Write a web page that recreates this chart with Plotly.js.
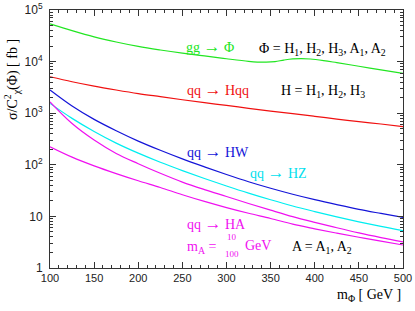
<!DOCTYPE html>
<html><head><meta charset="utf-8">
<script src="https://cdn.plot.ly/plotly-3.0.1.min.js"></script>
<style>html,body{margin:0;padding:0;background:#fff}#c{width:415px;height:311px}</style>
</head><body><div id="c"></div>
<script>
const mPhi = [100,125,150,175,200,225,250,275,300,325,350,375,400,425,450,475,500];
const mPhiGG = [100,125,150,175,200,225,250,275,300,325,335,345,355,365,375,385,395,410,425,450,475,500];
const ggPhi = [53700,39800,30200,24000,19700,16800,14600,12900,11350,10100,9800,9750,10000,10700,11250,11380,11220,10470,9550,8130,6920,5890];
const qqHqq = [5093,4074,3350,2818,2399,2089,1820,1603,1413,1245,1096,977,871,767,684,617,550];
const qqHW  = [2818,1380,759,457,288,191,130,91.2,64.9,47.0,35.1,26.9,21.1,16.9,13.7,11.4,9.55];
const qqHZ  = [1549,794,442,263,168,112,77.3,54.3,38.9,28.3,21.0,15.9,12.4,9.77,7.85,6.40,5.30];
const qqHA10  = [1660,631,302,166,105,68.4,46.2,33.1,24.3,17.8,13.2,9.89,7.67,6.03,4.79,3.89,3.20];
const qqHA100 = [224,141,95.5,67.6,49.0,36.3,26.3,19.5,14.8,11.5,9.12,7.08,5.75,4.73,3.94,3.31,2.79];
const yTickVals = [1,10,100,1000,10000,100000];
const yTickText = ['1','10','10<sup>2</sup>','10<sup>3</sup>','10<sup>4</sup>','10<sup>5</sup>'];
const xTickVals = [100,150,200,250,300,350,400,450,500];

const yMinor = [];
for (let d = 0; d < 5; d++) for (let k = 2; k <= 9; k++) yMinor.push(k * Math.pow(10, d));

function tr(x, y, color) {
  return {x: x, y: y, type: 'scatter', mode: 'lines', line: {color: color, width: 1.2, shape: 'spline', smoothing: 1}, hoverinfo: 'skip', showlegend: false};
}
const GREEN = '#22e622', RED = '#f01010', BLUE = '#1414d8', CYAN = '#00eef0', MAG = '#f010f0';
const data = [
  tr(mPhiGG, ggPhi, GREEN),
  tr(mPhi, qqHqq, RED),
  tr(mPhi, qqHW, BLUE),
  tr(mPhi, qqHZ, CYAN),
  tr(mPhi, qqHA10, MAG),
  tr(mPhi, qqHA100, MAG)
];
const serif = 'Liberation Serif, Times New Roman, serif';
const AR = '<span style="font-size:17px">→</span>';
function ann(text, px, py, color, size, extra) {
  return Object.assign({text: text, xref: 'paper', yref: 'paper', x: (px - 50) / 353, y: (268 - py) / 258,
    xanchor: 'left', yanchor: 'middle', showarrow: false, font: {family: serif, size: size || 14, color: color}}, extra || {});
}
const annotations = [
  ann('gg ' + AR + ' Φ', 184, 46, GREEN),
  ann('Φ = H<sub>1</sub>, H<sub>2</sub>, H<sub>3</sub>, A<sub>1</sub>, A<sub>2</sub>', 257, 49, '#000'),
  ann('qq ' + AR + ' Hqq', 185, 89, RED),
  ann('H = H<sub>1</sub>, H<sub>2</sub>, H<sub>3</sub>', 279, 91, '#000'),
  ann('qq ' + AR + ' HW', 185, 151, BLUE),
  ann('qq ' + AR + ' HZ', 248, 172, '#00e0ee'),
  ann('qq ' + AR + ' HA', 185, 223, MAG),
  ann('m<sub>A</sub> =', 185, 247, MAG),
  ann('10', 225, 237, MAG, 9),
  ann('100', 223, 254, MAG, 9),
  ann('GeV', 243, 245, MAG),
  ann('A = A<sub>1</sub>, A<sub>2</sub>', 290, 247, '#000'),
  ann('σ/C<sup>2</sup><sub>χ</sub>(Φ) [ fb ]', 12, 80, '#000', 14, {xanchor: 'center', textangle: -90}),
  ann('m<sub>Φ</sub> [ GeV ]', 403, 295, '#000', 14, {xanchor: 'right'})
];
const axFont = {family: 'Liberation Sans, Arial, sans-serif', size: 11, color: '#222'};
const layout = {
  width: 415, height: 311,
  margin: {l: 50, r: 12, t: 10, b: 43},
  paper_bgcolor: '#fff', plot_bgcolor: '#fff',
  xaxis: {range: [100, 500], tickmode: 'array', tickvals: xTickVals, ticks: 'inside', ticklen: 6, tickcolor: '#333',
    showline: true, linecolor: '#333', linewidth: 1, mirror: 'allticks', showgrid: false, zeroline: false,
    tickfont: axFont, minor: {dtick: 10, ticks: 'inside', ticklen: 3, tickcolor: '#333', showgrid: false}},
  yaxis: {type: 'log', range: [0, 5], tickmode: 'array', tickvals: yTickVals, ticktext: yTickText, ticks: 'inside', ticklen: 6, tickcolor: '#333',
    showline: true, linecolor: '#333', linewidth: 1, mirror: 'allticks', showgrid: false, zeroline: false, ticklabelstandoff: 4,
    tickfont: {family: 'Liberation Sans, Arial, sans-serif', size: 12, color: '#222'},
    minor: {tickmode: 'array', tickvals: yMinor, ticks: 'inside', ticklen: 3, tickcolor: '#333', showgrid: false}},
  annotations: annotations
};
Plotly.newPlot('c', data, layout, {displayModeBar: false, staticPlot: true});
</script></body></html>
